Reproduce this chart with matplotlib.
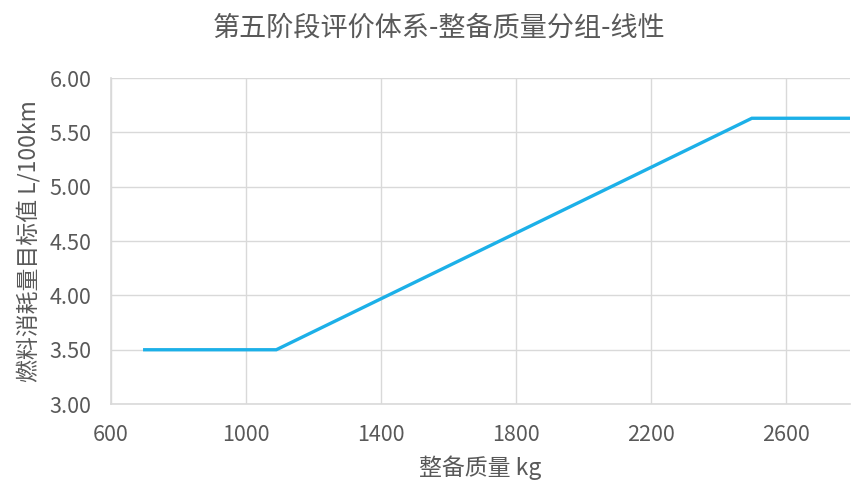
import matplotlib
matplotlib.use("Agg")
import matplotlib.pyplot as plt

plt.rcParams['font.family'] = ['Noto Sans CJK SC', 'DejaVu Sans']

# curb mass (kg) vs fuel consumption target (L/100km)
mass = [700, 1090, 2500, 2790]
target = [3.50, 3.50, 5.63, 5.63]
x_ticks = [600, 1000, 1400, 1800, 2200, 2600]
y_ticks = [3.0, 3.5, 4.0, 4.5, 5.0, 5.5, 6.0]

grey = "#595959"
grid = "#d9d9d9"

fig = plt.figure(figsize=(8.67, 4.94), dpi=100)
ax = fig.add_axes([0.128, 0.182, 0.852, 0.660])

ax.plot(mass, target, color="#1cb0e8", linewidth=2.4, solid_joinstyle="miter")

ax.set_xlim(600, 2790)
ax.set_ylim(3.0, 6.0)
ax.set_xticks(x_ticks)
ax.set_yticks(y_ticks)
ax.set_yticklabels([f"{v:.2f}" for v in y_ticks])
ax.grid(True, color=grid, linewidth=1)
ax.set_axisbelow(True)

for s in ["top", "right"]:
    ax.spines[s].set_visible(False)
for s in ["left", "bottom"]:
    ax.spines[s].set_color(grid)
    ax.spines[s].set_linewidth(1.2)
ax.tick_params(length=0, labelsize=15.5, labelcolor=grey)
ax.tick_params(axis="x", pad=14)
ax.tick_params(axis="y", pad=14)

fig.text(0.506, 1 - 28 / 494, "第五阶段评价体系-整备质量分组-线性",
         fontsize=19.5, color=grey, ha="center", va="center")
ax.set_xlabel("整备质量 kg", fontsize=16.5, color=grey, va="center")
ax.xaxis.set_label_coords(0.5, -0.196)
ax.set_ylabel("燃料消耗量目标值 L/100km", fontsize=16.5, color=grey, va="center")
ax.yaxis.set_label_coords(-0.112, 0.5)

fig.savefig("out.png", dpi=100)
